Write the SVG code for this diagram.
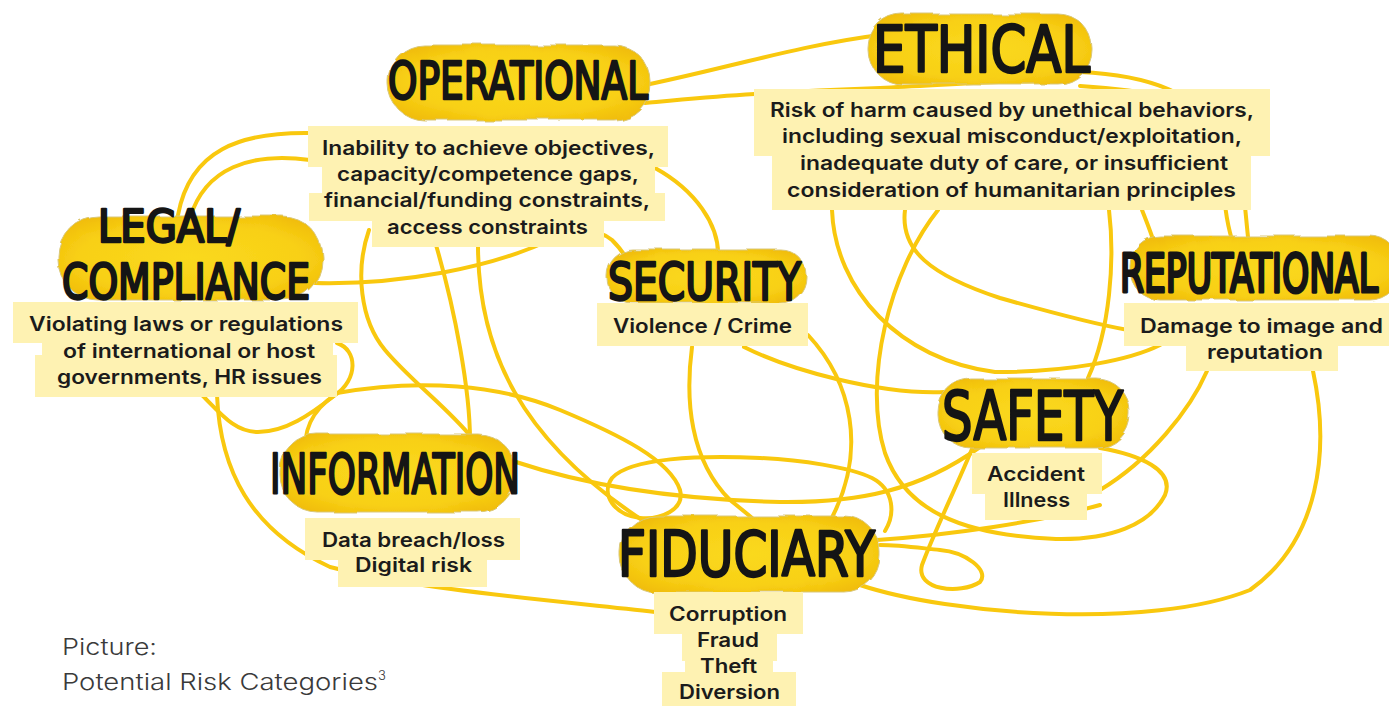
<svg xmlns="http://www.w3.org/2000/svg" width="1389" height="706" viewBox="0 0 1389 706">
<style>
.c{fill:none;stroke:#F9C80E;stroke-width:4;stroke-linecap:round;stroke-linejoin:round}
.blob{fill:url(#by);stroke:#d9c77a;stroke-width:1;filter:url(#rough)}
.h{font-family:"DejaVu Sans Condensed","DejaVu Sans",sans-serif;font-weight:normal;fill:#151515;stroke:#151515;stroke-width:2.4;stroke-linejoin:round;stroke-linecap:round}
.hl{fill:#FEF2B2}
.t{font-family:Inter,"Open Sans",sans-serif;font-weight:600;font-size:19.5px;fill:#1b1b1b}
.cap{font-family:Inter,"Open Sans",sans-serif;font-weight:300;font-size:23px;fill:#3a3a3a}
</style>
<defs>
<radialGradient id="by" cx="0.5" cy="0.5" r="0.6">
<stop offset="0" stop-color="#FAD91E"/>
<stop offset="0.7" stop-color="#F8D016"/>
<stop offset="1" stop-color="#F1BE08"/>
</radialGradient>
<filter id="rough" x="-5%" y="-10%" width="110%" height="120%">
<feTurbulence type="fractalNoise" baseFrequency="0.03" numOctaves="2" seed="3" result="n"/>
<feDisplacementMap in="SourceGraphic" in2="n" scale="6"/>
</filter>
</defs>
<rect width="1389" height="706" fill="#ffffff"/>

<g id="connectors">
<path class="c" d="M645,85 C720,70 800,45 880,35"/>
<path class="c" d="M645,103 C700,98 760,92 880,88 C950,85 1000,80 1060,82"/>
<path class="c" d="M1080,72 C1150,75 1200,95 1215,130 C1225,160 1220,200 1232,240"/>
<path class="c" d="M1080,86 C1140,90 1200,98 1225,125 C1242,150 1244,200 1248,237"/>
<path class="c" d="M310,133 C240,132 190,150 178,215"/>
<path class="c" d="M310,160 C250,152 205,168 190,218"/>
<path class="c" d="M315,283 C400,285 490,268 550,240 C580,228 600,230 612,240 C620,248 625,255 628,262"/>
<path class="c" d="M655,168 C695,190 720,225 718,258"/>
<path class="c" d="M436,245 C455,310 470,390 470,440"/>
<path class="c" d="M478,245 C478,350 520,440 645,522"/>
<path class="c" d="M369,230 C355,270 360,320 385,350 C410,380 450,410 472,438"/>
<path class="c" d="M337,343 C358,350 358,380 335,395 C310,415 285,432 258,432 C235,432 222,415 200,393"/>
<path class="c" d="M335,395 C312,410 302,432 306,458"/>
<path class="c" d="M337,393 C420,378 500,385 560,410 C620,435 670,460 680,490 C685,510 660,520 640,518 C615,515 600,495 612,478 C630,458 700,455 760,458 C800,460 850,467 872,478 C895,490 895,515 885,531"/>
<path class="c" d="M516,462 C600,490 700,500 780,502 C860,503 920,490 980,447"/>
<path class="c" d="M217,395 C220,470 250,530 330,567 C420,590 550,600 655,612"/>
<path class="c" d="M692,347 C685,400 690,460 730,500 C745,512 755,520 760,525"/>
<path class="c" d="M808,335 C850,380 870,450 828,525"/>
<path class="c" d="M744,347 C790,370 880,395 945,392"/>
<path class="c" d="M832,210 C835,290 900,360 995,372 C1070,372 1130,360 1160,345"/>
<path class="c" d="M905,210 C900,250 930,275 1000,298 C1060,315 1100,325 1128,330"/>
<path class="c" d="M938,210 C890,270 862,380 885,453 C905,510 960,535 1056,539 C1110,540 1150,525 1165,495 C1175,470 1140,455 1100,448"/>
<path class="c" d="M1109,210 C1115,260 1110,330 1088,378"/>
<path class="c" d="M1142,210 C1148,225 1152,235 1155,246"/>
<path class="c" d="M1207,371 C1190,410 1150,460 1100,490"/>
<path class="c" d="M1313,371 C1330,450 1320,540 1250,590 C1150,630 950,615 860,585"/>
<path class="c" d="M972,449 C955,490 935,530 922,565 C915,590 960,595 980,582 C990,570 965,552 940,550 C920,548 900,545 880,545"/>
<path class="c" d="M877,540 C950,535 1040,522 1100,505"/>
</g>

<g id="operational">
<rect class="blob" x="388" y="45" width="262" height="75" rx="36"/>
<text class="h" x="388" y="99" font-size="52" textLength="260" lengthAdjust="spacingAndGlyphs">OPERATIONAL</text>
<rect class="hl" x="308" y="126" width="360" height="41"/>
<rect class="hl" x="322" y="166" width="333" height="28"/>
<rect class="hl" x="309" y="193" width="356" height="28"/>
<rect class="hl" x="372" y="220" width="232" height="27"/>
<text class="t" x="322" y="155" textLength="333" lengthAdjust="spacingAndGlyphs">Inability to achieve objectives,</text>
<text class="t" x="337" y="181" textLength="302" lengthAdjust="spacingAndGlyphs">capacity/competence gaps,</text>
<text class="t" x="324" y="207" textLength="326" lengthAdjust="spacingAndGlyphs">financial/funding constraints,</text>
<text class="t" x="387" y="234" textLength="201" lengthAdjust="spacingAndGlyphs">access constraints</text>
</g>

<g id="ethical">
<rect class="blob" x="868" y="14" width="224" height="70" rx="34"/>
<text class="h" x="873" y="72" font-size="64" textLength="217" lengthAdjust="spacingAndGlyphs">ETHICAL</text>
<rect class="hl" x="754" y="89" width="516" height="67"/>
<rect class="hl" x="772" y="155" width="479" height="55"/>
<text class="t" x="770" y="117" textLength="484" lengthAdjust="spacingAndGlyphs">Risk of harm caused by unethical behaviors,</text>
<text class="t" x="782" y="143" textLength="460" lengthAdjust="spacingAndGlyphs">including sexual misconduct/exploitation,</text>
<text class="t" x="800" y="170" textLength="428" lengthAdjust="spacingAndGlyphs">inadequate duty of care, or insufficient</text>
<text class="t" x="787" y="197" textLength="449" lengthAdjust="spacingAndGlyphs">consideration of humanitarian principles</text>
</g>

<g id="legal">
<rect class="blob" x="58" y="216" width="264" height="84" rx="40"/>
<text class="h" x="98" y="242" font-size="44" textLength="142" lengthAdjust="spacingAndGlyphs">LEGAL/</text>
<text class="h" x="62" y="299" font-size="50" textLength="248" lengthAdjust="spacingAndGlyphs">COMPLIANCE</text>
<rect class="hl" x="13" y="302" width="345" height="41"/>
<rect class="hl" x="42" y="342" width="291" height="15"/>
<rect class="hl" x="35" y="355" width="302" height="42"/>
<text class="t" x="29" y="331" textLength="314" lengthAdjust="spacingAndGlyphs">Violating laws or regulations</text>
<text class="t" x="63" y="358" textLength="252" lengthAdjust="spacingAndGlyphs">of international or host</text>
<text class="t" x="57" y="384" textLength="265" lengthAdjust="spacingAndGlyphs">governments, HR issues</text>
</g>

<g id="security">
<rect class="blob" x="606" y="249" width="200" height="54" rx="26"/>
<text class="h" x="608" y="300" font-size="52" textLength="193" lengthAdjust="spacingAndGlyphs">SECURITY</text>
<rect class="hl" x="597" y="303" width="211" height="43"/>
<text class="t" x="613" y="333" textLength="179" lengthAdjust="spacingAndGlyphs">Violence / Crime</text>
</g>

<g id="reputational">
<rect class="blob" x="1130" y="236" width="270" height="64" rx="30"/>
<text class="h" transform="translate(1120,292) scale(1,1.35)" x="0" y="0" font-size="40" textLength="258" lengthAdjust="spacingAndGlyphs">REPUTATIONAL</text>
<rect class="hl" x="1124" y="303" width="265" height="43"/>
<rect class="hl" x="1186" y="345" width="152" height="26"/>
<text class="t" x="1140" y="333" textLength="243" lengthAdjust="spacingAndGlyphs">Damage to image and</text>
<text class="t" x="1207" y="359" textLength="116" lengthAdjust="spacingAndGlyphs">reputation</text>
</g>

<g id="safety">
<rect class="blob" x="938" y="379" width="192" height="69" rx="33"/>
<text class="h" x="942" y="440" font-size="68" textLength="181" lengthAdjust="spacingAndGlyphs">SAFETY</text>
<rect class="hl" x="972" y="453" width="130" height="41"/>
<rect class="hl" x="985" y="493" width="102" height="27"/>
<text class="t" x="987" y="481" textLength="98" lengthAdjust="spacingAndGlyphs">Accident</text>
<text class="t" x="1003" y="507" textLength="67" lengthAdjust="spacingAndGlyphs">Illness</text>
</g>

<g id="information">
<rect class="blob" x="280" y="434" width="235" height="78" rx="37"/>
<text class="h" x="270" y="493" font-size="56" textLength="250" lengthAdjust="spacingAndGlyphs">INFORMATION</text>
<rect class="hl" x="305" y="518" width="215" height="42"/>
<rect class="hl" x="338" y="559" width="149" height="28"/>
<text class="t" x="322" y="547" textLength="183" lengthAdjust="spacingAndGlyphs">Data breach/loss</text>
<text class="t" x="355" y="572" textLength="117" lengthAdjust="spacingAndGlyphs">Digital risk</text>
</g>

<g id="fiduciary">
<rect class="blob" x="620" y="516" width="260" height="76" rx="36"/>
<text class="h" x="618" y="576" font-size="62" textLength="257" lengthAdjust="spacingAndGlyphs">FIDUCIARY</text>
<rect class="hl" x="654" y="592" width="149" height="42"/>
<rect class="hl" x="682" y="633" width="95" height="28"/>
<rect class="hl" x="685" y="660" width="88" height="13"/>
<rect class="hl" x="662" y="672" width="134" height="34"/>
<text class="t" x="669" y="621" textLength="118" lengthAdjust="spacingAndGlyphs">Corruption</text>
<text class="t" x="697" y="647" textLength="62" lengthAdjust="spacingAndGlyphs">Fraud</text>
<text class="t" x="700" y="673" textLength="57" lengthAdjust="spacingAndGlyphs">Theft</text>
<text class="t" x="679" y="699" textLength="101" lengthAdjust="spacingAndGlyphs">Diversion</text>
</g>

<g id="caption">
<text class="cap" x="62" y="655" textLength="95" lengthAdjust="spacingAndGlyphs">Picture:</text>
<text class="cap" x="62" y="690"><tspan textLength="316" lengthAdjust="spacingAndGlyphs">Potential Risk Categories</tspan><tspan font-size="13" dy="-10">3</tspan></text>
</g>
</svg>
